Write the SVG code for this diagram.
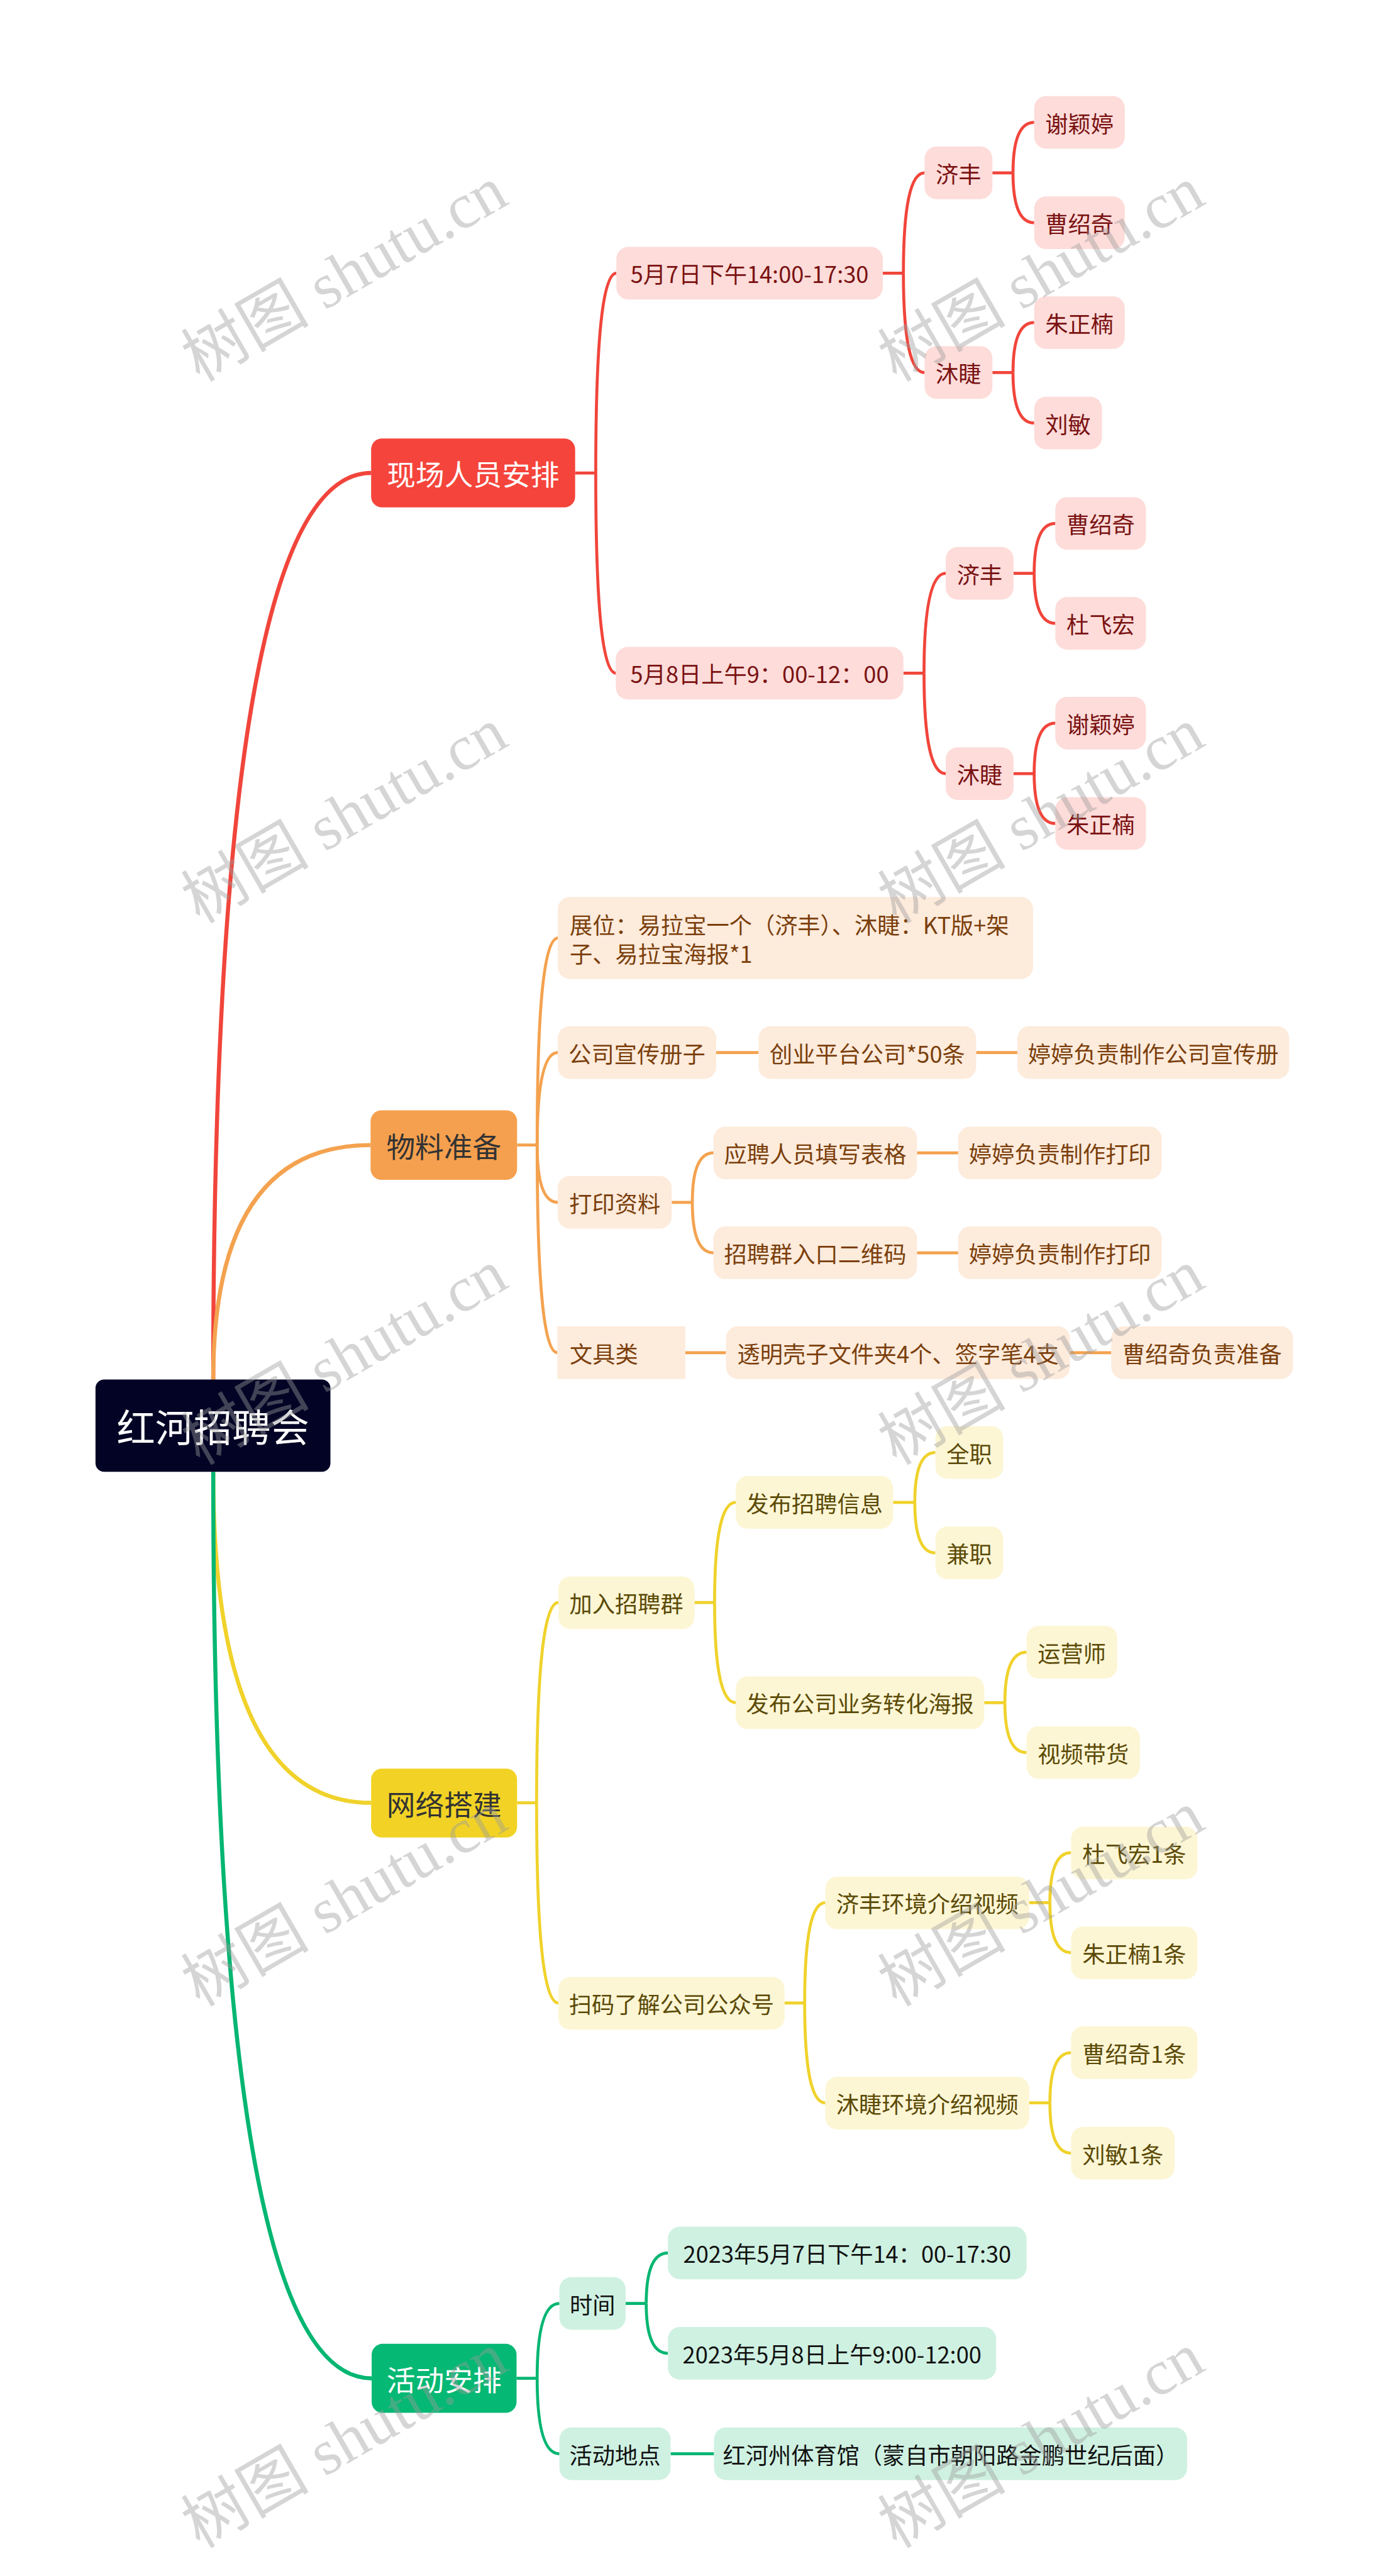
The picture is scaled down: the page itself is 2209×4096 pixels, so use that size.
<svg xmlns="http://www.w3.org/2000/svg" width="2209" height="4096" viewBox="0 0 2209 4096">
<style>
text{font-family:"Noto Sans CJK SC","Microsoft YaHei","Noto Sans",sans-serif;dominant-baseline:central}
.n text{font-size:42px;text-anchor:middle}
.n text.l{text-anchor:start}
.l1 text{font-size:53px;text-anchor:middle}
.root text{font-size:71px;text-anchor:middle;fill:#ffffff}
.root rect{fill:#030425}
.r rect{fill:#FDDCDA}.r text{fill:#7a1212}
.o rect{fill:#FDEBDC}.o text{fill:#7b3f0c}
.y rect{fill:#FDF6D5}.y text{fill:#5b4a06}
.g rect{fill:#CFF1E2}.g text{fill:#111111}
#n-xc rect{fill:#F5443B}#n-xc text{fill:#ffffff}
#n-wl rect{fill:#F5A04E}#n-wl text{fill:#333333}
#n-wd rect{fill:#F2D325}#n-wd text{fill:#333333}
#n-hd rect{fill:#05B873}#n-hd text{fill:#ffffff}
#links path{fill:none;stroke-width:5.5}
#links path.w1{stroke-width:7.5}
#links .cr path{stroke:#F1453B}
#links .co path{stroke:#F4A24F}
#links .cy path{stroke:#F0D22B}
#links .cg path{stroke:#05B672}
.wm text{font-family:"Liberation Serif","Noto Sans CJK SC",serif;font-size:118px;fill:#9a9a9a;fill-opacity:0.42;dominant-baseline:alphabetic}
</style>
<rect x="0" y="0" width="2209" height="4096" fill="#ffffff"/>
<g transform="scale(0.8629)">
<g id="links">
<g class="cr">
<path class="w1" d="M393,2542 Q393,871.5 684,871.5"/>
<path d="M1060,871.5 H1098"/>
<path d="M1098,871.5 Q1098,503.5 1136,503.5"/>
<path d="M1098,871.5 Q1098,1240.5 1135,1240.5"/>
<path d="M1627,503.5 H1665"/>
<path d="M1665,503.5 Q1665,318.5 1704,318.5"/>
<path d="M1665,503.5 Q1665,686.5 1704,686.5"/>
<path d="M1829,318.5 H1867"/>
<path d="M1867,318.5 Q1867,225.5 1906,225.5"/>
<path d="M1867,318.5 Q1867,410.5 1906,410.5"/>
<path d="M1829,686.5 H1867"/>
<path d="M1867,686.5 Q1867,594.5 1906,594.5"/>
<path d="M1867,686.5 Q1867,779.5 1906,779.5"/>
<path d="M1665,1240.5 H1703"/>
<path d="M1703,1240.5 Q1703,1056.5 1743,1056.5"/>
<path d="M1703,1240.5 Q1703,1425.5 1743,1425.5"/>
<path d="M1868,1056.5 H1906"/>
<path d="M1906,1056.5 Q1906,964.5 1945,964.5"/>
<path d="M1906,1056.5 Q1906,1148.5 1945,1148.5"/>
<path d="M1868,1425.5 H1906"/>
<path d="M1906,1425.5 Q1906,1332.5 1945,1332.5"/>
<path d="M1906,1425.5 Q1906,1517.5 1945,1517.5"/>
</g>
<g class="co">
<path class="w1" d="M393,2542 Q393,2110 683,2110"/>
<path d="M953,2110 H990"/>
<path d="M990,2110 Q990,1728.5 1028,1728.5"/>
<path d="M990,2110 Q990,1939.5 1028,1939.5"/>
<path d="M990,2110 Q990,2215.5 1028,2215.5"/>
<path d="M990,2110 Q990,2492.5 1027,2492.5"/>
<path d="M1320,1939.5 H1398"/>
<path d="M1799,1939.5 H1875"/>
<path d="M1238,2215.5 H1276"/>
<path d="M1276,2215.5 Q1276,2124.5 1315,2124.5"/>
<path d="M1276,2215.5 Q1276,2308.5 1315,2308.5"/>
<path d="M1690,2124.5 H1766"/>
<path d="M1690,2308.5 H1766"/>
<path d="M1263,2492.5 H1338"/>
<path d="M1972,2492.5 H2048"/>
</g>
<g class="cy">
<path class="w1" d="M393,2712 Q393,3322 684,3322"/>
<path d="M953,3322 H989"/>
<path d="M989,3322 Q989,2953 1029,2953"/>
<path d="M989,3322 Q989,3691 1029,3691"/>
<path d="M1280,2953 H1317"/>
<path d="M1317,2953 Q1317,2768.5 1356,2768.5"/>
<path d="M1317,2953 Q1317,3137.5 1356,3137.5"/>
<path d="M1646,2768.5 H1686"/>
<path d="M1686,2768.5 Q1686,2676.5 1724,2676.5"/>
<path d="M1686,2768.5 Q1686,2861.5 1724,2861.5"/>
<path d="M1814,3137.5 H1852"/>
<path d="M1852,3137.5 Q1852,3044.5 1892,3044.5"/>
<path d="M1852,3137.5 Q1852,3229.5 1892,3229.5"/>
<path d="M1446,3691 H1483"/>
<path d="M1483,3691 Q1483,3506 1521,3506"/>
<path d="M1483,3691 Q1483,3875 1521,3875"/>
<path d="M1897,3506 H1935"/>
<path d="M1935,3506 Q1935,3414 1974,3414"/>
<path d="M1935,3506 Q1935,3598 1974,3598"/>
<path d="M1897,3875 H1935"/>
<path d="M1935,3875 Q1935,3782.5 1974,3782.5"/>
<path d="M1935,3875 Q1935,3967.5 1974,3967.5"/>
</g>
<g class="cg">
<path class="w1" d="M393,2712 Q393,4382.5 685,4382.5"/>
<path d="M952,4382.5 H990"/>
<path d="M990,4382.5 Q990,4244.5 1031,4244.5"/>
<path d="M990,4382.5 Q990,4521.5 1031,4521.5"/>
<path d="M1153,4244.5 H1191"/>
<path d="M1191,4244.5 Q1191,4151.5 1231,4151.5"/>
<path d="M1191,4244.5 Q1191,4336.5 1231,4336.5"/>
<path d="M1236,4521.5 H1316"/>
</g>
</g>

<g id="n-root" class="root"><rect x="176" y="2542" width="433" height="170" rx="16"/><text x="392.5" y="2627">红河招聘会</text></g>

<g id="n-xc" class="l1"><rect x="684" y="808" width="376" height="127" rx="20"/><text x="872" y="871.5">现场人员安排</text></g>
<g id="n-wl" class="l1"><rect x="683" y="2046" width="270" height="128" rx="20"/><text x="818" y="2110">物料准备</text></g>
<g id="n-wd" class="l1"><rect x="684" y="3259" width="269" height="127" rx="20"/><text x="818.5" y="3322">网络搭建</text></g>
<g id="n-hd" class="l1"><rect x="685" y="4319" width="267" height="127" rx="20"/><text x="818.5" y="4382.5">活动安排</text></g>

<g id="n-r1" class="n r"><rect x="1136" y="455" width="491" height="97" rx="22"/><text x="1381.5" y="503.5">5月7日下午14:00-17:30</text></g>
<g id="n-r1a" class="n r"><rect x="1704" y="270" width="125" height="97" rx="22"/><text x="1766.5" y="318.5">济丰</text></g>
<g id="n-r1a1" class="n r"><rect x="1906" y="177" width="167" height="97" rx="22"/><text x="1989.5" y="225.5">谢颖婷</text></g>
<g id="n-r1a2" class="n r"><rect x="1906" y="362" width="167" height="97" rx="22"/><text x="1989.5" y="410.5">曹绍奇</text></g>
<g id="n-r1b" class="n r"><rect x="1704" y="638" width="125" height="97" rx="22"/><text x="1766.5" y="686.5">沐睫</text></g>
<g id="n-r1b1" class="n r"><rect x="1906" y="546" width="167" height="97" rx="22"/><text x="1989.5" y="594.5">朱正楠</text></g>
<g id="n-r1b2" class="n r"><rect x="1906" y="731" width="125" height="97" rx="22"/><text x="1968.5" y="779.5">刘敏</text></g>
<g id="n-r2" class="n r"><rect x="1135" y="1192" width="530" height="97" rx="22"/><text x="1400" y="1240.5">5月8日上午9：00-12：00</text></g>
<g id="n-r2a" class="n r"><rect x="1743" y="1008" width="125" height="97" rx="22"/><text x="1805.5" y="1056.5">济丰</text></g>
<g id="n-r2a1" class="n r"><rect x="1945" y="916" width="167" height="97" rx="22"/><text x="2028.5" y="964.5">曹绍奇</text></g>
<g id="n-r2a2" class="n r"><rect x="1945" y="1100" width="167" height="97" rx="22"/><text x="2028.5" y="1148.5">杜飞宏</text></g>
<g id="n-r2b" class="n r"><rect x="1743" y="1377" width="125" height="97" rx="22"/><text x="1805.5" y="1425.5">沐睫</text></g>
<g id="n-r2b1" class="n r"><rect x="1945" y="1284" width="167" height="97" rx="22"/><text x="2028.5" y="1332.5">谢颖婷</text></g>
<g id="n-r2b2" class="n r"><rect x="1945" y="1469" width="167" height="97" rx="22"/><text x="2028.5" y="1517.5">朱正楠</text></g>

<g id="n-o1" class="n o"><rect x="1028" y="1653" width="876" height="151" rx="22"/><text class="l" x="1050" y="1702">展位：易拉宝一个（济丰）、沐睫：KT版+架</text><text class="l" x="1050" y="1756">子、易拉宝海报*1</text></g>
<g id="n-o2" class="n o"><rect x="1028" y="1891" width="292" height="97" rx="22"/><text x="1174" y="1939.5">公司宣传册子</text></g>
<g id="n-o2a" class="n o"><rect x="1398" y="1891" width="401" height="97" rx="22"/><text x="1598.5" y="1939.5">创业平台公司*50条</text></g>
<g id="n-o2b" class="n o"><rect x="1875" y="1891" width="501" height="97" rx="22"/><text x="2125.5" y="1939.5">婷婷负责制作公司宣传册</text></g>
<g id="n-o3" class="n o"><rect x="1028" y="2167" width="210" height="97" rx="22"/><text x="1133" y="2215.5">打印资料</text></g>
<g id="n-o3a" class="n o"><rect x="1315" y="2076" width="375" height="97" rx="22"/><text x="1502.5" y="2124.5">应聘人员填写表格</text></g>
<g id="n-o3a1" class="n o"><rect x="1766" y="2076" width="375" height="97" rx="22"/><text x="1953.5" y="2124.5">婷婷负责制作打印</text></g>
<g id="n-o3b" class="n o"><rect x="1315" y="2260" width="375" height="97" rx="22"/><text x="1502.5" y="2308.5">招聘群入口二维码</text></g>
<g id="n-o3b1" class="n o"><rect x="1766" y="2260" width="375" height="97" rx="22"/><text x="1953.5" y="2308.5">婷婷负责制作打印</text></g>
<g id="n-o4" class="n o"><rect x="1027" y="2444" width="236" height="97"/><text class="l" x="1050" y="2492.5">文具类</text></g>
<g id="n-o4a" class="n o"><rect x="1338" y="2444" width="634" height="97" rx="22"/><text x="1655" y="2492.5">透明壳子文件夹4个、签字笔4支</text></g>
<g id="n-o4b" class="n o"><rect x="2048" y="2444" width="335" height="97" rx="22"/><text x="2215.5" y="2492.5">曹绍奇负责准备</text></g>

<g id="n-y1" class="n y"><rect x="1029" y="2905" width="251" height="97" rx="22"/><text x="1154.5" y="2953">加入招聘群</text></g>
<g id="n-y1a" class="n y"><rect x="1356" y="2720" width="290" height="97" rx="22"/><text x="1501" y="2768.5">发布招聘信息</text></g>
<g id="n-y1a1" class="n y"><rect x="1724" y="2628" width="125" height="97" rx="22"/><text x="1786.5" y="2676.5">全职</text></g>
<g id="n-y1a2" class="n y"><rect x="1724" y="2813" width="125" height="97" rx="22"/><text x="1786.5" y="2861.5">兼职</text></g>
<g id="n-y1b" class="n y"><rect x="1356" y="3089" width="458" height="97" rx="22"/><text x="1585" y="3137.5">发布公司业务转化海报</text></g>
<g id="n-y1b1" class="n y"><rect x="1892" y="2996" width="167" height="97" rx="22"/><text x="1975.5" y="3044.5">运营师</text></g>
<g id="n-y1b2" class="n y"><rect x="1892" y="3181" width="209" height="97" rx="22"/><text x="1996.5" y="3229.5">视频带货</text></g>
<g id="n-y2" class="n y"><rect x="1029" y="3643" width="417" height="97" rx="22"/><text x="1237.5" y="3691">扫码了解公司公众号</text></g>
<g id="n-y2a" class="n y"><rect x="1521" y="3458" width="376" height="97" rx="22"/><text x="1709" y="3506">济丰环境介绍视频</text></g>
<g id="n-y2a1" class="n y"><rect x="1974" y="3366" width="233" height="97" rx="22"/><text x="2090.5" y="3414">杜飞宏1条</text></g>
<g id="n-y2a2" class="n y"><rect x="1974" y="3550" width="233" height="97" rx="22"/><text x="2090.5" y="3598">朱正楠1条</text></g>
<g id="n-y2b" class="n y"><rect x="1521" y="3827" width="376" height="97" rx="22"/><text x="1709" y="3875">沐睫环境介绍视频</text></g>
<g id="n-y2b1" class="n y"><rect x="1974" y="3734" width="233" height="97" rx="22"/><text x="2090.5" y="3782.5">曹绍奇1条</text></g>
<g id="n-y2b2" class="n y"><rect x="1974" y="3919" width="191" height="97" rx="22"/><text x="2069.5" y="3967.5">刘敏1条</text></g>

<g id="n-g1" class="n g"><rect x="1031" y="4196" width="122" height="97" rx="22"/><text x="1092" y="4244.5">时间</text></g>
<g id="n-g1a" class="n g"><rect x="1231" y="4103" width="661" height="97" rx="22"/><text x="1561.5" y="4151.5">2023年5月7日下午14：00-17:30</text></g>
<g id="n-g1b" class="n g"><rect x="1231" y="4288" width="605" height="97" rx="22"/><text x="1533.5" y="4336.5">2023年5月8日上午9:00-12:00</text></g>
<g id="n-g2" class="n g"><rect x="1031" y="4473" width="205" height="97" rx="22"/><text x="1133.5" y="4521.5">活动地点</text></g>
<g id="n-g2a" class="n g"><rect x="1316" y="4473" width="872" height="97" rx="22"/><text x="1752" y="4521.5">红河州体育馆（蒙自市朝阳路金鹏世纪后面）</text></g>

<g class="wm">
<text transform="translate(368,705) rotate(-30)">树图 shutu.cn</text>
<text transform="translate(1652,705) rotate(-30)">树图 shutu.cn</text>
<text transform="translate(368,1703) rotate(-30)">树图 shutu.cn</text>
<text transform="translate(1652,1703) rotate(-30)">树图 shutu.cn</text>
<text transform="translate(368,2701) rotate(-30)">树图 shutu.cn</text>
<text transform="translate(1652,2701) rotate(-30)">树图 shutu.cn</text>
<text transform="translate(368,3699) rotate(-30)">树图 shutu.cn</text>
<text transform="translate(1652,3699) rotate(-30)">树图 shutu.cn</text>
<text transform="translate(368,4697) rotate(-30)">树图 shutu.cn</text>
<text transform="translate(1652,4697) rotate(-30)">树图 shutu.cn</text>
</g>
</g>
</svg>
